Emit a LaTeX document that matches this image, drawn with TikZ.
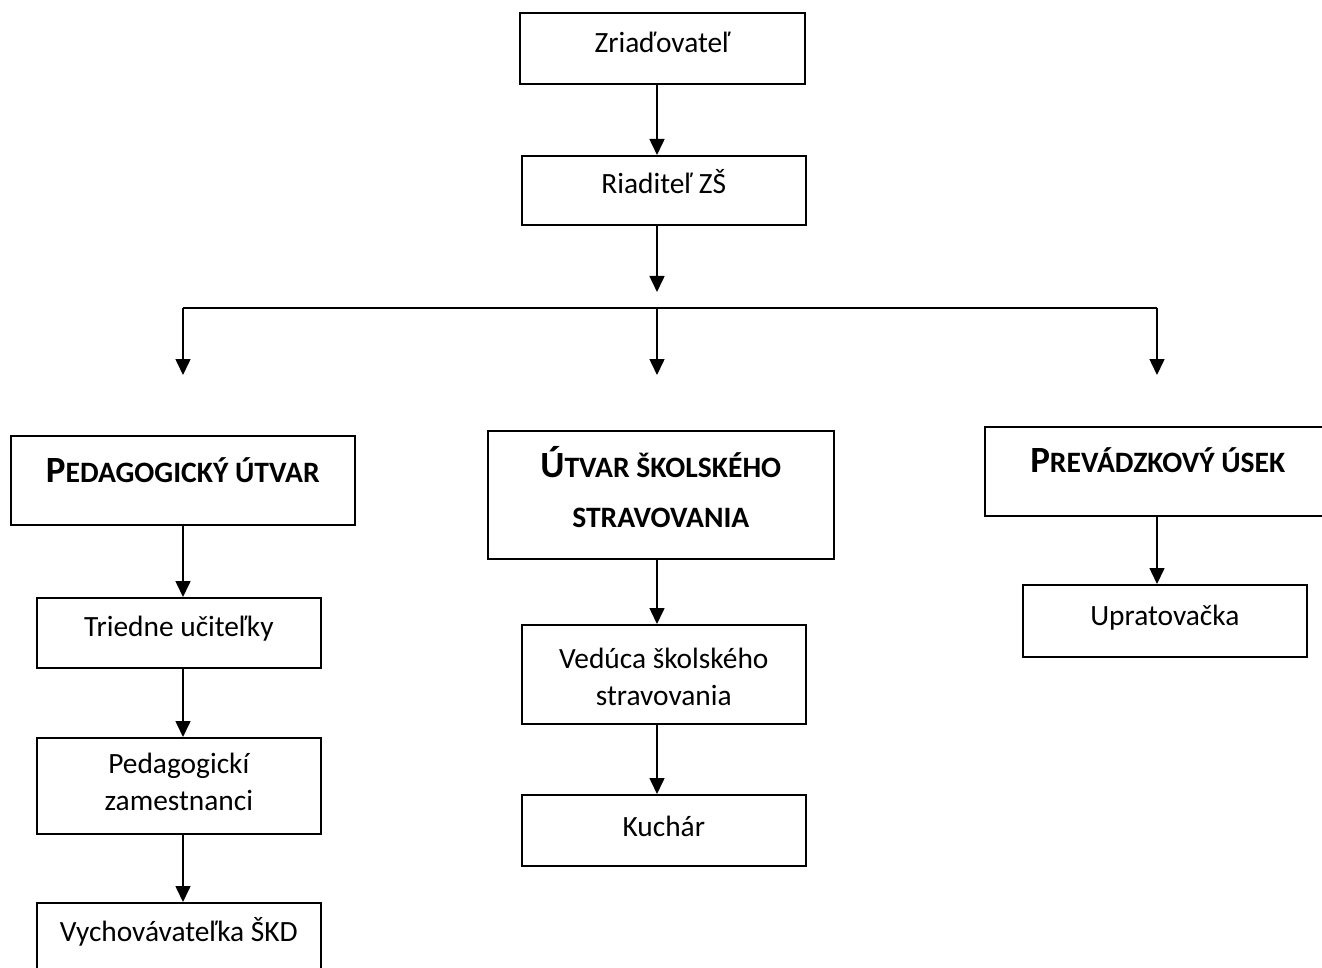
\documentclass[tikz,border=0pt]{standalone}
\usepackage{fontspec}
\setmainfont{Carlito}
\usetikzlibrary{arrows.meta, positioning}

% small caps done by hand: big first letter, rest smaller
\newcommand{\capfirst}[1]{{\fontsize{18.5}{25}\selectfont #1}}

\begin{document}
\begin{tikzpicture}[
    x=0.5pt, y=-0.5pt,
    box/.style={rectangle, draw, line width=0.8pt, inner sep=0pt, align=center, anchor=north west, font=\fontsize{14.7}{18.5}\selectfont},
    head/.style={box, font=\bfseries\fontsize{14.8}{25}\selectfont},
    arrow/.style={-{Triangle[width=7.5pt, length=8pt]}, line width=0.8pt},
    bar/.style={line width=0.8pt}
]
    \useasboundingbox (0,0) rectangle (1322,968);
    \clip (0,0) rectangle (1322,968);

    \node[box, minimum width=142.5pt, text height=20pt, text depth=15.5pt] (zriad) at (519,12) {Zriaďovateľ};
    \node[box, minimum width=142pt, text height=19pt, text depth=15.5pt] (riad) at (521,155) {Riaditeľ ZŠ};

    \node[head, minimum width=172pt, text height=23.5pt, text depth=21pt] (ped) at (10,435) {\capfirst{P}EDAGOGICKÝ ÚTVAR};
    \node[head, minimum width=173pt, text height=48.4pt, text depth=15.6pt] (utvar) at (487,430) {\capfirst{Ú}TVAR ŠKOLSKÉHO\\STRAVOVANIA};
    \node[head, minimum width=173pt, text height=23pt, text depth=21.5pt] (prev) at (984,426) {\capfirst{P}REVÁDZKOVÝ ÚSEK};

    \node[box, minimum width=142pt, text height=19.5pt, text depth=15.5pt] (triedne) at (36,597) {Triedne učiteľky};
    \node[box, minimum width=142pt, text height=36.5pt, text depth=11.5pt] (pedzam) at (36,737) {Pedagogickí\\zamestnanci};
    \node[box, minimum width=142pt, text height=19.5pt, text depth=15.5pt] (vychov) at (36,902) {Vychovávateľka ŠKD};

    \node[box, minimum width=142pt, text height=40.5pt, text depth=9pt] (veduca) at (521,624) {Vedúca školského\\stravovania};
    \node[box, minimum width=142pt, text height=21pt, text depth=14.5pt] (kuchar) at (521,794) {Kuchár};

    \node[box, minimum width=142pt, text height=20.5pt, text depth=15.5pt] (uprat) at (1022,584) {Upratovačka};

    \coordinate (split) at (657,292);
    \coordinate (barL) at (183,308);
    \coordinate (barM) at (657,308);
    \coordinate (barR) at (1157,308);
    \coordinate (tipL) at (183,375);
    \coordinate (tipM) at (657,375);
    \coordinate (tipR) at (1157,375);

    \draw[arrow] (zriad.south -| split) -- (riad.north -| split);
    \draw[arrow] (riad.south -| split) -- (split);
    \draw[bar] (barL) -- (barR);
    \draw[arrow] (barL) -- (tipL);
    \draw[arrow] (barM) -- (tipM);
    \draw[arrow] (barR) -- (tipR);

    \draw[arrow] (ped.south -| barL) -- (triedne.north -| barL);
    \draw[arrow] (triedne.south -| barL) -- (pedzam.north -| barL);
    \draw[arrow] (pedzam.south -| barL) -- (vychov.north -| barL);
    \draw[arrow] (utvar.south -| barM) -- (veduca.north -| barM);
    \draw[arrow] (veduca.south -| barM) -- (kuchar.north -| barM);
    \draw[arrow] (prev.south -| barR) -- (uprat.north -| barR);
\end{tikzpicture}
\end{document}
